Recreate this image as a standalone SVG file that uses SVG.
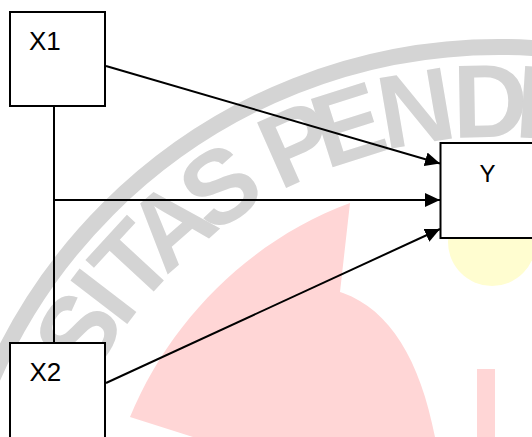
<svg xmlns="http://www.w3.org/2000/svg" width="532" height="437" viewBox="0 0 532 437">
  <style>
    .box { fill: #ffffff; stroke: #000000; stroke-width: 2; }
    .lbl { font-family: "Liberation Sans", Arial, sans-serif; fill: #000000; }
    .conn { stroke: #000000; stroke-width: 2; fill: none; }
    .wm { font-family: "Liberation Sans", Arial, sans-serif; font-weight: bold; font-size: 104px; fill: #d4d4d4; text-anchor: middle; }
  </style>
  <defs>
    <marker id="arrow" markerWidth="15" markerHeight="14" refX="15" refY="7" orient="auto" markerUnits="userSpaceOnUse">
      <path d="M0,0 L15,7 L0,14 z" fill="#000000"/>
    </marker>
  </defs>
  <rect x="0" y="0" width="532" height="437" fill="#ffffff"/>
  <g id="watermark">
    <circle cx="499" cy="600" r="553" fill="none" stroke="#d4d4d4" stroke-width="16"/>
    <text class="wm" x="499" y="137" transform="rotate(-57.5 499 600)">S</text>
    <text class="wm" x="499" y="137" transform="rotate(-52.5 499 600)">I</text>
    <text class="wm" x="499" y="137" transform="rotate(-47.3 499 600)">T</text>
    <text class="wm" x="499" y="137" transform="rotate(-41.2 499 600)">A</text>
    <text class="wm" x="499" y="137" transform="rotate(-34 499 600)">S</text>
    <text class="wm" x="499" y="137" transform="rotate(-23.9 499 600)">P</text>
    <text class="wm" x="499" y="137" transform="rotate(-17.6 499 600)">E</text>
    <text class="wm" x="499" y="137" transform="rotate(-9.6 499 600)">N</text>
    <text class="wm" x="499" y="137" transform="rotate(-1 499 600)">D</text>
    <text class="wm" x="499" y="137" transform="rotate(3.6 499 600)">I</text>
    <path d="M350,203 L340,292 L343,293 C390,310 420,360 435,437 L193,437 L130,417 C170,320 250,240 350,203 z" fill="#ffd6d6"/>
    <rect x="477" y="369" width="18" height="68" fill="#ffd6d6"/>
    <circle cx="492" cy="242" r="44" fill="#fffdd0"/>
  </g>
  <g id="connectors">
    <line class="conn" x1="54" y1="106" x2="54" y2="343"/>
    <line class="conn" x1="106" y1="66" x2="440" y2="163.5" marker-end="url(#arrow)"/>
    <line class="conn" x1="54" y1="200" x2="440" y2="200" marker-end="url(#arrow)"/>
    <line class="conn" x1="106" y1="383" x2="440" y2="229" marker-end="url(#arrow)"/>
  </g>
  <g id="node-X1">
    <rect class="box" x="10" y="12" width="95" height="94"/>
    <text class="lbl" x="29" y="50" font-size="26">X1</text>
  </g>
  <g id="node-X2">
    <rect class="box" x="10" y="343" width="95" height="100"/>
    <text class="lbl" x="29.5" y="381" font-size="26">X2</text>
  </g>
  <g id="node-Y">
    <rect class="box" x="440.5" y="143" width="100" height="95"/>
    <text class="lbl" x="487.5" y="182" font-size="24" text-anchor="middle">Y</text>
  </g>
</svg>
